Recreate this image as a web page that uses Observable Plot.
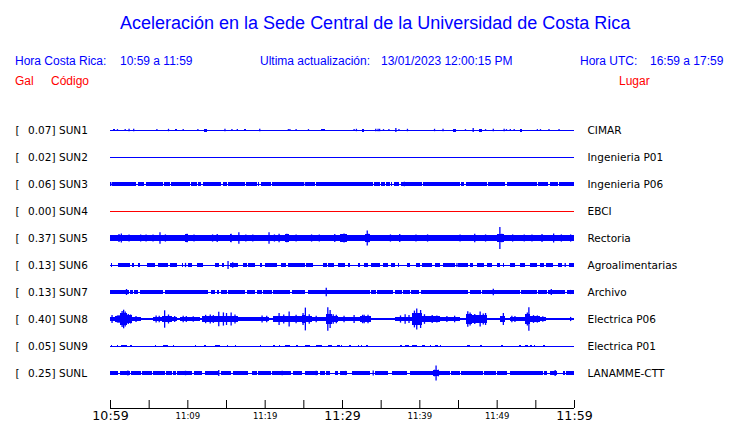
<!DOCTYPE html>
<html><head><meta charset="utf-8">
<script src="https://cdn.jsdelivr.net/npm/d3@7"></script>
<script src="https://cdn.jsdelivr.net/npm/@observablehq/plot@0.6"></script>
<style>
html,body{margin:0;padding:0;background:#fff;}
#wrap{position:relative;width:740px;height:423px;overflow:hidden;font-family:"Liberation Sans",Arial,sans-serif;}
.t{position:absolute;white-space:pre;line-height:1;font-size:12px;}
.b{color:#0000ff;} .r{color:#ff0000;}
#chart{position:absolute;left:0;top:100px;}
</style></head><body>
<div id="wrap">
  <div class="t b" style="left:120px;top:13.8px;font-size:18px">Aceleración en la Sede Central de la Universidad de Costa Rica</div>
  <div class="t b" style="left:15px;top:54.8px">Hora Costa Rica:</div>
  <div class="t b" style="left:120px;top:54.8px">10:59 a 11:59</div>
  <div class="t b" style="left:260px;top:54.8px">Ultima actualización:</div>
  <div class="t b" style="left:381px;top:54.8px">13/01/2023 12:00:15 PM</div>
  <div class="t b" style="left:580px;top:54.8px">Hora UTC:</div>
  <div class="t b" style="left:650px;top:54.8px">16:59 a 17:59</div>
  <div class="t r" style="left:15px;top:74.8px">Gal</div>
  <div class="t r" style="left:51px;top:74.8px">Código</div>
  <div class="t r" style="left:619px;top:74.8px">Lugar</div>
  <div id="chart"></div>
</div>
<script>
// ---- data (times in minutes after 10:59, amplitudes in Gal) ----
const codes  = ["SUN1","SUN2","SUN3","SUN4","SUN5","SUN6","SUN7","SUN8","SUN9","SUNL"];
const peaks  = ["0.07","0.02","0.06","0.00","0.37","0.13","0.13","0.40","0.05","0.25"];
const places = ["CIMAR","Ingenieria P01","Ingenieria P06","EBCI","Rectoria","Agroalimentarias","Archivo","Electrica P06","Electrica P01","LANAMME-CTT"];
const bandAmp = [0, 0, 0.06, 0, 0.095, 0, 0.055, 0.045, 0, 0.055];

const majorTickLabels = ["10:59","11:29","11:59"];
const minorTickLabels = ["11:09","11:19","11:39","11:49"];
const plainTickLabels = ["11:04","11:14","11:24","11:34","11:44","11:54"];

const gapsSUN3 = [[0.1,0.3],[3.4,3.6],[4.4,4.6],[6.8,7.0],[7.7,7.9],[9.0,9.1],[10.3,10.5],[11.2,11.4],[11.8,12.0],[14.4,14.6],[15.1,15.3],[17.4,17.6],[19.0,19.1],[19.3,19.5],[20.8,21.0],[25.1,25.3],[26.5,26.7],[34.0,34.2],[34.9,35.1],[35.5,35.7],[36.2,36.3],[36.5,36.7],[37.4,37.6],[40.3,40.5],[45.2,45.4],[45.8,46.0],[48.7,48.9],[51.1,51.3],[55.2,55.4],[56.7,56.9],[57.9,58.1]];
const gapsSUN7 = [[0.6,0.7],[2.4,2.6],[3.0,3.15],[3.65,3.9],[6.9,7.1],[12.7,13.05],[13.6,13.85],[14.15,14.3],[15.1,15.3],[17.45,17.7],[18.75,19.0],[19.6,19.8],[20.9,21.1],[23.3,23.5],[25.2,25.6],[33.6,33.8],[34.35,34.5],[36.65,36.8],[37.7,37.9],[38.75,38.9],[40.0,40.2],[46.3,46.55],[48.0,48.15],[53.0,53.2],[55.2,55.4],[56.5,56.7],[58.8,59.05]];
const gapsSUNL = [[1.08,1.3],[2.55,2.7],[4.05,4.2],[5.4,5.6],[7.05,7.2],[8.0,8.2],[8.55,8.7],[10.55,10.8],[11.85,12.3],[14.15,14.3],[15.7,15.95],[17.9,18.3],[19.0,19.2],[20.85,21.0],[23.45,23.6],[24.8,25.2],[26.9,27.15],[27.75,27.9],[28.45,29.1],[29.5,29.75],[30.6,31.25],[33.6,34.25],[36.0,36.5],[38.4,38.8],[43.95,44.1],[45.25,45.4],[48.25,48.4],[49.95,50.1],[51.3,51.7],[55.95,56.1],[56.5,56.9],[57.8,58.6],[58.85,59.0]];

const burstsSUN1 = [[0.4,0.65,0.045],[8.35,8.7,0.04],[12.2,12.6,0.05],[17.35,17.65,0.04],[27.3,27.8,0.04],[32.55,32.9,0.05],[44.4,44.8,0.05],[47.7,48.1,0.05],[53.0,53.25,0.05]];
const burstsSUN5 = [[0.86,1.42,0.115],[2.16,2.8,0.11],[5.2,5.8,0.11],[9.7,10.1,0.12],[13.6,14.0,0.115],[15.5,15.7,0.12],[22.6,23.1,0.12],[25.7,26.4,0.11],[28.7,29.5,0.115],[29.7,30.6,0.12],[33.0,33.6,0.12],[34.1,34.5,0.11],[35.0,35.4,0.11],[43.1,43.5,0.11],[50.0,50.9,0.12],[55.6,55.9,0.115]];
const burstsSUN6 = [[0.13,0.3,0.055],[1.08,2.6,0.055],[2.8,3.15,0.055],[3.6,3.9,0.055],[4.8,5.8,0.055],[6.25,7.5,0.055],[7.7,8.6,0.055],[9.3,9.5,0.055],[10.1,10.6,0.055],[11.2,12.0,0.055],[13.6,14.1,0.055],[14.5,14.8,0.055],[15.5,16.6,0.08],[17.2,17.7,0.055],[17.9,18.75,0.055],[19.4,19.6,0.055],[20.0,21.55,0.055],[22.1,22.8,0.055],[23.05,25.2,0.055],[25.4,26.3,0.055],[27.5,28.0,0.055],[28.2,29.0,0.055],[29.5,30.4,0.055],[30.8,31.0,0.055],[32.1,32.3,0.055],[32.8,33.4,0.055],[33.8,34.9,0.055],[35.3,36.0,0.055],[36.4,36.8,0.055],[37.2,37.4,0.055],[38.4,38.8,0.055],[39.6,40.1,0.055],[40.3,41.6,0.055],[42.0,42.7,0.055],[43.1,44.6,0.055],[45.0,46.3,0.055],[46.6,47.0,0.055],[47.4,48.3,0.055],[48.7,49.4,0.055],[50.0,50.4,0.055],[50.8,51.0,0.055],[51.7,52.4,0.055],[53.0,53.7,0.055],[54.3,55.2,0.055],[55.6,56.1,0.055],[56.4,57.3,0.055],[57.9,58.4,0.055],[59.3,60,0.055]];
const burstsSUN8 = [[0,0.65,0.07],[0.65,1.3,0.09],[1.3,2.15,0.2],[2.15,2.8,0.13],[2.8,4.0,0.07],[5.6,6.7,0.08],[6.7,8.0,0.11],[8.0,8.6,0.07],[9.05,10.1,0.08],[10.1,11.6,0.055],[11.9,13.6,0.1],[13.6,16.6,0.09],[16.6,17.5,0.07],[17.5,19.0,0.055],[19.0,20.5,0.08],[21.1,22.0,0.1],[22.0,23.1,0.11],[23.1,24.8,0.1],[24.8,25.4,0.13],[25.4,26.1,0.11],[26.1,27.9,0.075],[27.9,28.7,0.17],[28.7,29.5,0.11],[29.5,31.0,0.08],[31.0,32.3,0.07],[32.3,33.8,0.1],[36.9,39.0,0.08],[39.0,40.3,0.19],[40.3,41.2,0.11],[41.2,42.7,0.09],[42.7,45.3,0.075],[46.0,46.8,0.16],[46.8,47.4,0.12],[47.4,48.7,0.13],[50.4,51.1,0.1],[51.7,52.6,0.08],[52.6,53.7,0.065],[53.7,54.3,0.16],[54.3,55.6,0.1],[55.6,56.4,0.07]];
const burstsSUN9 = [[0.13,0.3,0.045],[0.86,1.08,0.045],[1.42,2.16,0.045],[2.6,2.8,0.045],[5.8,6.0,0.045],[6.8,7.5,0.045],[8.1,8.3,0.045],[10.95,11.1,0.045],[12.2,12.4,0.045],[13.6,14.2,0.045],[15.1,15.3,0.045],[16.1,16.25,0.045],[19.35,19.5,0.045],[21.1,21.3,0.045],[21.8,22.0,0.045],[22.6,23.3,0.045],[24.1,24.3,0.045],[25.2,25.9,0.045],[26.7,27.4,0.045],[28.2,28.7,0.045],[29.3,29.7,0.045],[29.9,30.05,0.045],[30.95,31.1,0.045],[32.05,32.2,0.045],[32.45,32.6,0.045],[33.15,33.3,0.045],[37.5,37.7,0.045],[38.1,38.6,0.045],[39.1,39.7,0.045],[40.3,40.7,0.045],[41.35,41.5,0.045],[42.0,42.4,0.045],[42.65,42.8,0.045],[46.1,46.6,0.045],[47.8,48.1,0.045],[50.6,50.8,0.045],[52.95,53.1,0.045],[53.7,54.0,0.045],[54.3,54.6,0.045],[54.8,55.0,0.045],[56.05,56.2,0.045]];
const burstsSUNL = [[41.8,42.5,0.09]];

const spikesSUN1 = [[0.9,0.03],[1.9,0.03],[2.4,0.04],[3.0,0.04],[6.0,0.03],[7.5,0.04],[9.4,0.03],[11.3,0.03],[14.8,0.04],[15.7,0.03],[16.4,0.03],[19.3,0.04],[23.0,0.03],[23.2,0.03],[24.0,0.03],[25.6,0.03],[31.5,0.03],[31.8,0.04],[34.3,0.04],[34.6,0.04],[34.8,0.04],[35.3,0.03],[36.0,0.03],[36.9,0.07],[37.3,0.03],[38.4,0.04],[41.9,0.04],[43.0,0.04],[45.9,0.03],[46.9,0.07],[48.5,0.03],[49.5,0.04],[50.9,0.04],[51.2,0.03],[51.7,0.03],[52.2,0.03],[55.2,0.03],[55.6,0.03],[56.7,0.03],[58.0,0.03]];
const spikesSUN3 = [[0.05,0.06],[7.3,0.065],[25.2,0.065],[38.0,0.075]];
const spikesSUN5 = [[1.1,0.13],[1.4,0.15],[2.4,0.12],[3.9,0.12],[4.6,0.12],[5.5,0.12],[6.4,0.19],[7.1,0.12],[9.9,0.14],[10.8,0.12],[13.2,0.12],[13.8,0.13],[15.6,0.14],[16.6,0.19],[17.5,0.12],[18.4,0.12],[20.5,0.19],[21.2,0.12],[21.8,0.14],[22.8,0.14],[24.0,0.12],[26.0,0.12],[27.0,0.12],[29.0,0.13],[30.2,0.15],[33.2,0.25],[33.4,0.14],[36.2,0.12],[37.4,0.13],[39.5,0.12],[41.0,0.12],[45.2,0.12],[47.1,0.14],[48.5,0.12],[50.35,0.37],[50.6,0.14],[52.0,0.12],[53.5,0.12],[54.5,0.12],[55.8,0.13],[57.3,0.15],[58.3,0.12],[59.5,0.12]];
const spikesSUN6 = [[9.7,0.07],[15.2,0.13],[15.8,0.09],[39.8,0.07],[44.8,0.065],[58.8,0.07]];
const spikesSUN7 = [[2.07,0.1],[7.35,0.07],[27.9,0.14],[38.3,0.065],[49.5,0.11],[57.0,0.1],[59.5,0.07]];
const spikesSUN8 = [[0.2,0.13],[0.9,0.12],[1.1,0.13],[1.5,0.27],[1.7,0.31],[1.9,0.25],[2.3,0.17],[2.6,0.15],[3.3,0.1],[5.9,0.12],[6.3,0.11],[7.0,0.29],[7.5,0.15],[8.3,0.1],[9.4,0.11],[9.8,0.1],[10.7,0.09],[12.3,0.14],[12.9,0.15],[13.3,0.13],[14.0,0.24],[14.6,0.22],[15.0,0.2],[15.6,0.22],[16.1,0.15],[19.6,0.12],[20.2,0.11],[21.8,0.2],[22.4,0.15],[23.1,0.25],[24.0,0.14],[24.9,0.2],[25.2,0.38],[25.7,0.16],[26.6,0.11],[28.1,0.39],[28.4,0.3],[28.8,0.16],[29.2,0.14],[30.2,0.11],[31.5,0.13],[32.6,0.14],[32.8,0.14],[33.3,0.14],[37.5,0.12],[38.1,0.16],[38.6,0.13],[39.3,0.28],[39.6,0.35],[40.1,0.3],[40.6,0.16],[41.6,0.13],[42.2,0.12],[43.5,0.1],[44.5,0.11],[46.2,0.26],[46.5,0.22],[47.1,0.17],[47.8,0.25],[48.2,0.18],[48.5,0.2],[50.8,0.2],[51.9,0.11],[52.3,0.1],[53.9,0.22],[54.1,0.39],[54.7,0.13],[55.2,0.12],[55.9,0.09],[59.5,0.07]];
const spikesSUNL = [[2.25,0.08],[9.7,0.075],[14.0,0.1],[22.2,0.075],[26.6,0.075],[30.4,0.07],[33.97,0.08],[41.9,0.11],[42.1,0.25],[42.4,0.11],[47.0,0.07],[51.9,0.065],[57.5,0.1]];

// ---- assembly ----
const stationGaps   = [[], [], gapsSUN3, [], [], [], gapsSUN7, [], [], gapsSUNL];
const stationBursts = [burstsSUN1, [], [], [], burstsSUN5, burstsSUN6, [], burstsSUN8, burstsSUN9, burstsSUNL];
const stationSpikes = [spikesSUN1, [], spikesSUN3, [], spikesSUN5, spikesSUN6, spikesSUN7, spikesSUN8, [], spikesSUNL];

const START = Date.UTC(2023, 0, 13, 10, 59);
const SPAN = 60;
const toDate = m => new Date(START + m * 60000);
const parseHM = s => { const [h, mm] = s.split(":").map(Number); return new Date(Date.UTC(2023, 0, 13, h, mm)); };
const fmt = d3.utcFormat("%H:%M");

const ROW = 0.9;          // Gal between trace baselines
const Y_TOP = 1.0;
const Y_BOTTOM = 1 - 308 / 30;
const off = i => -ROW * i;
const colorOf = i => codes[i] === "SUN4" ? "#ff0000" : "#0000ff";

const rows = codes.map((c, i) => ({i, code: c, peak: peaks[i], place: places[i]}));

const segs = [];
rows.forEach(({i}) => {
  if (bandAmp[i] > 0) {
    let s = 0;
    for (const [a, b] of stationGaps[i]) { if (a > s) segs.push({i, t0: s, t1: a, amp: bandAmp[i]}); s = b; }
    if (s < SPAN) segs.push({i, t0: s, t1: SPAN, amp: bandAmp[i]});
  }
  for (const [a, b, amp] of stationBursts[i]) segs.push({i, t0: a, t1: b, amp});
});
const spikes = [];
rows.forEach(({i}) => { for (const [t, amp] of stationSpikes[i]) spikes.push({i, t, amp}); });

const font = "DejaVu Sans";
const chart = Plot.plot({
  width: 740, height: 323,
  marginLeft: 110, marginRight: 166, marginTop: 0, marginBottom: 15,
  style: {background: "white", fontFamily: font, overflow: "visible"},
  x: {type: "utc", domain: [toDate(0), toDate(SPAN)]},
  y: {domain: [Y_BOTTOM, Y_TOP], axis: null},
  marks: [
    Plot.rect(segs, {x1: d => toDate(d.t0), x2: d => toDate(d.t1), y1: d => off(d.i) - d.amp, y2: d => off(d.i) + d.amp, fill: d => colorOf(d.i), shapeRendering: "crispEdges"}),
    Plot.ruleX(spikes, {x: d => toDate(d.t), y1: d => off(d.i) - d.amp, y2: d => off(d.i) + d.amp, stroke: d => colorOf(d.i), strokeWidth: 1.3}),
    Plot.ruleY(rows, {y: d => off(d.i), stroke: d => colorOf(d.i), strokeWidth: 1}),
    Plot.ruleY([Y_BOTTOM], {stroke: "black", strokeWidth: 1}),
    Plot.axisX([...majorTickLabels, ...minorTickLabels, ...plainTickLabels].map(parseHM), {tickSize: 8, dy: -8, tickFormat: () => "", stroke: "black"}),
    Plot.axisX(majorTickLabels.map(parseHM), {tickSize: 0, tickPadding: 3, fontSize: 12.6, fontFamily: font, tickFormat: fmt, fill: "black"}),
    Plot.axisX(minorTickLabels.map(parseHM), {tickSize: 0, tickPadding: 4, fontSize: 8.5, fontFamily: font, tickFormat: fmt, fill: "black"}),
    Plot.text(rows, {y: d => off(d.i), text: () => "[", frameAnchor: "left", dx: -95, textAnchor: "start", fontSize: 10.5, fill: "black"}),
    Plot.text(rows, {y: d => off(d.i), text: d => d.peak + "]", frameAnchor: "left", dx: -82.5, textAnchor: "start", fontSize: 10.5, fill: "black"}),
    Plot.text(rows, {y: d => off(d.i), text: "code", frameAnchor: "left", dx: -51.5, textAnchor: "start", fontSize: 10.5, fill: "black"}),
    Plot.text(rows, {y: d => off(d.i), text: "place", frameAnchor: "right", dx: 13, textAnchor: "start", fontSize: 10.5, fill: "black"})
  ]
});
document.getElementById("chart").appendChild(chart);
</script>
</body></html>
